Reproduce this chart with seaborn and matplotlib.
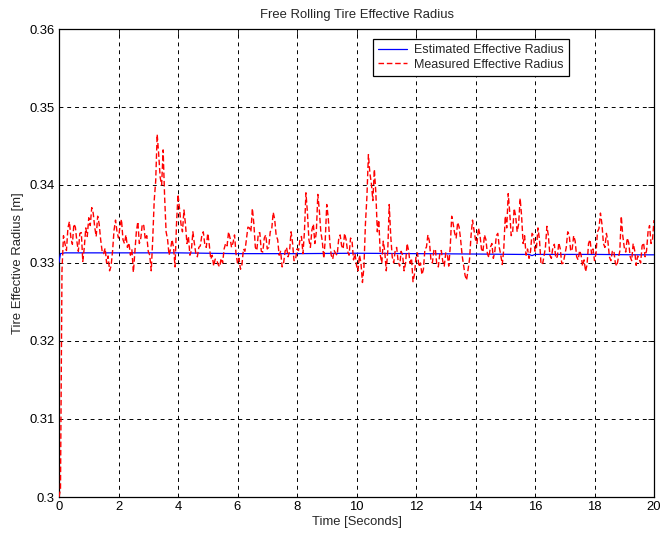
import numpy as np
import pandas as pd
import matplotlib
matplotlib.use("Agg")
import matplotlib.pyplot as plt
import seaborn as sns

# Measured effective radius [mm], samples at t = 0.0, 0.1, ..., 20.0 s
measured_mm = [
    300.0, 329.0,
    332.5, 334.5, 333.2, 335.0, 332.8, 333.8, 330.2, 334.5, 335.8,
    337.1, 334.6, 336.0, 333.0, 331.2, 330.0, 329.0, 331.5, 335.5, 333.2,
    335.6, 332.5, 332.0, 331.0, 328.8, 334.0, 332.5, 335.0, 333.0, 331.5,
    329.0, 338.0, 346.5, 341.0, 344.5, 334.0, 331.0, 333.0, 329.5, 338.8,
    335.0, 336.8, 332.5, 331.0, 334.0, 331.2, 332.0, 333.5, 332.4, 333.8,
    330.5, 329.6, 330.4, 329.5, 330.0, 332.5, 334.0, 332.0, 333.6, 330.0,
    329.2, 331.8, 333.0, 334.5, 337.0, 332.0, 333.8, 331.5, 333.2, 331.8,
    334.0, 336.5, 333.5, 331.0, 329.5, 331.5, 330.8, 334.0, 330.3, 331.8,
    333.0, 331.2, 339.0, 333.0, 334.2, 332.5, 338.8, 334.0, 330.6, 337.5,
    332.8, 330.5, 331.2, 333.0, 332.2, 333.8, 331.5, 333.2, 330.4, 329.7,
    331.0, 327.5, 335.0, 343.9, 340.2, 342.0, 334.0, 331.0, 332.8, 329.0,
    337.5, 330.8, 331.6, 330.2, 331.5, 329.0, 332.5, 330.0, 327.6, 330.8,
    329.5, 328.5, 331.8, 333.6, 330.5, 331.6, 329.8, 331.2, 330.2, 331.3,
    329.6, 336.0, 333.8, 335.2, 333.0, 329.7, 327.8, 330.5, 335.5, 333.0,
    334.5, 331.8, 333.6, 331.2, 332.0, 330.6, 333.5, 332.0, 329.8, 336.0,
    338.9, 333.5, 337.0, 334.0, 338.3, 332.5, 331.0, 330.6, 333.8, 331.5,
    334.5, 330.0, 330.8, 334.7, 331.0, 332.0, 330.6, 332.6, 329.9, 331.0,
    334.0, 331.5, 333.5, 330.8, 331.6, 329.6, 328.9, 332.5, 331.2, 330.3,
    334.0, 336.4, 332.5, 333.8, 330.8, 331.5, 330.0, 330.6, 336.0, 332.0,
    333.2, 330.8, 332.5, 329.7, 330.5, 332.2, 330.8, 334.0, 332.5, 335.5,
]

# Measured effective radius [mm], in-between samples at t = 0.05, 0.15, ..., 19.95 s
measured_mid_mm = [
    301.0, 333.5,
    331.6, 335.3, 332.4, 334.6, 331.5, 333.9, 332.0, 333.4, 334.8, 336.4,
    333.4, 335.0, 331.5, 331.9, 330.9, 329.6, 334.2, 334.0, 334.7, 333.0,
    333.6, 332.6, 331.7, 331.5, 335.3, 333.2, 334.8, 333.5, 331.0, 333.0,
    340.5, 344.0, 340.0, 338.5, 333.0, 331.8, 332.0, 335.0, 337.0, 334.0,
    335.0, 333.4, 331.6, 332.5, 330.8, 332.2, 334.0, 332.0, 332.4, 331.0,
    330.5, 329.8, 330.6, 331.8, 332.2, 333.2, 332.6, 331.2, 330.6, 329.8,
    331.5, 334.6, 334.0, 335.0, 331.6, 333.9, 331.4, 333.6, 332.0, 334.3,
    335.6, 333.0, 331.5, 330.0, 332.0, 331.5, 332.6, 330.4, 331.6, 333.4,
    334.0, 336.5, 332.0, 335.0, 334.0, 336.8, 332.8, 333.0, 335.8, 331.0,
    331.6, 331.0, 333.6, 331.8, 333.0, 331.0, 332.8, 331.2, 329.0, 330.0,
    329.5, 338.5, 341.5, 338.0, 339.0, 335.5, 330.0, 331.5, 331.5, 333.5,
    330.0, 332.0, 329.6, 331.0, 330.0, 331.6, 330.6, 328.6, 331.3, 330.0,
    329.2, 332.0, 332.8, 330.0, 331.8, 329.5, 331.6, 329.6, 331.2, 332.0,
    335.0, 333.2, 334.6, 331.0, 328.4, 329.2, 333.5, 334.2, 332.5, 333.6,
    331.4, 333.0, 330.7, 332.5, 331.5, 333.8, 331.0, 331.8, 334.5, 336.5,
    334.0, 336.0, 335.0, 336.0, 333.5, 331.8, 331.5, 333.5, 332.0, 333.0,
    329.8, 332.0, 333.5, 330.6, 332.4, 330.8, 331.8, 330.0, 332.0, 333.6,
    331.8, 332.8, 330.4, 331.0, 330.4, 329.8, 333.0, 331.8, 331.2, 334.4,
    335.0, 332.0, 332.8, 330.3, 331.6, 329.6, 331.5, 333.5, 331.4, 332.6,
    330.3, 331.6, 330.9, 330.0, 332.6, 331.6, 334.8, 333.0,
]

# Estimated effective radius [mm]
estimated_t = [0.0, 0.05, 0.2, 1.0, 2.0, 4.0, 6.0, 8.0, 10.0, 12.0, 14.0,
               15.5, 15.8, 15.9, 16.0, 16.2, 18.0, 19.5, 20.0]
estimated_mm = [330.1, 331.2, 331.3, 331.3, 331.3, 331.3, 331.2, 331.2, 331.25,
                331.2, 331.15, 331.1, 331.1, 330.95, 331.1, 331.1, 331.1, 331.05, 331.05]

x_ticks = [0, 2, 4, 6, 8, 10, 12, 14, 16, 18, 20]
y_ticks = [0.30, 0.31, 0.32, 0.33, 0.34, 0.35, 0.36]
y_tick_labels = ["0.3", "0.31", "0.32", "0.33", "0.34", "0.35", "0.36"]

t_main = np.round(np.arange(len(measured_mm)) * 0.1, 2)
t_mid = np.round(np.arange(len(measured_mid_mm)) * 0.1 + 0.05, 2)
meas = pd.DataFrame({
    "t": np.concatenate([t_main, t_mid]),
    "r": np.concatenate([measured_mm, measured_mid_mm]) / 1000.0,
}).sort_values("t")
est = pd.DataFrame({"t": estimated_t, "r": np.array(estimated_mm) / 1000.0})

sns.set_theme(style="white")
plt.rcParams["font.family"] = ["Liberation Sans", "DejaVu Sans"]
plt.rcParams["font.size"] = 9.4

fig = plt.figure(figsize=(6.62, 5.41), dpi=100)
ax = fig.add_axes([59 / 662, 44 / 541, 595 / 662, 468 / 541])

sns.lineplot(data=est, x="t", y="r", ax=ax, color="blue", linewidth=0.9,
             label="Estimated Effective Radius", zorder=3)
sns.lineplot(data=meas, x="t", y="r", ax=ax, color="red", linewidth=1.0,
             label="Measured Effective Radius", zorder=4, sort=False)
ax.lines[1].set_linestyle((0, (4, 2)))

ax.set_xlim(0, 20)
ax.set_ylim(0.30, 0.36)
ax.set_xticks(x_ticks)
ax.set_xticklabels([str(v) for v in x_ticks])
ax.set_yticks(y_ticks)
ax.set_yticklabels(y_tick_labels)
ax.tick_params(direction="in", length=4, width=0.6, colors="black",
               labelsize=9.4, top=True, right=True, pad=3)
ax.grid(True, color="black", linestyle=(0, (4, 4)), linewidth=0.7)
for s in ax.spines.values():
    s.set_color("black")
    s.set_linewidth(0.9)

ax.set_title("Free Rolling Tire Effective Radius", fontsize=9.4, pad=8)
ax.set_xlabel("Time [Seconds]", fontsize=9.4, labelpad=2)
ax.set_ylabel("Tire Effective Radius [m]", fontsize=9.4, labelpad=4)

leg = ax.legend(loc="upper right", bbox_to_anchor=(0.857, 0.978), fontsize=9.0,
                frameon=True, fancybox=False, framealpha=1, borderpad=0.4,
                handlelength=2.3, handletextpad=0.6, labelspacing=0.2,
                borderaxespad=0)
leg.get_frame().set_edgecolor("black")
leg.get_frame().set_linewidth(0.9)

fig.savefig("out.png", dpi=100, facecolor="white")
